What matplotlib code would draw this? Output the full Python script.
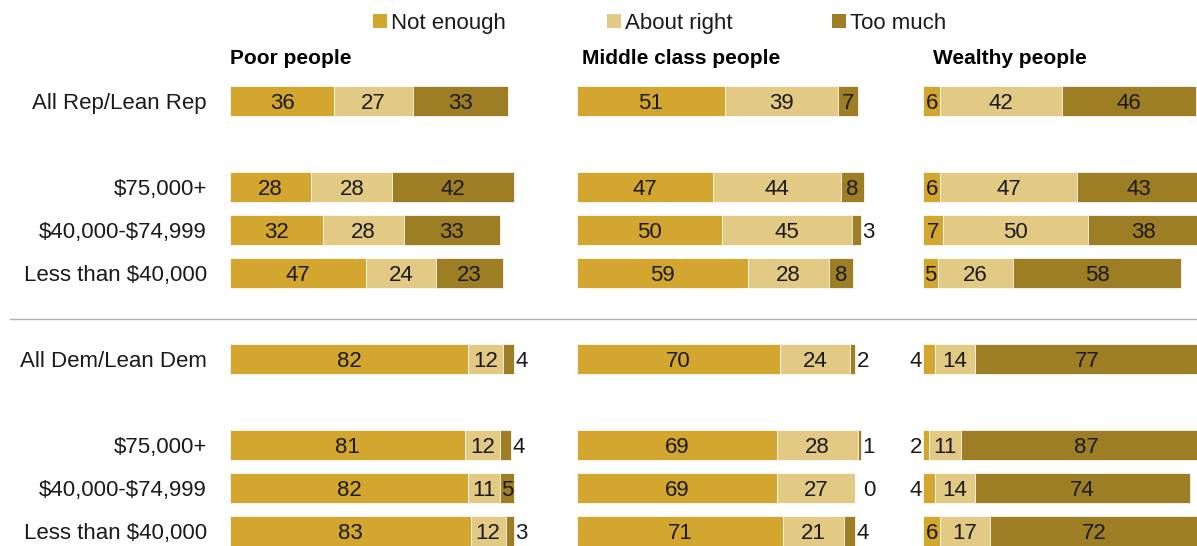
import matplotlib.pyplot as plt
from matplotlib.patches import Rectangle
from matplotlib.lines import Line2D

plt.rcParams['font.family'] = ['Liberation Sans', 'DejaVu Sans']

# data
groups = ['All Rep/Lean Rep', '$75,000+', '$40,000-$74,999', 'Less than $40,000',
          'All Dem/Lean Dem', '$75,000+', '$40,000-$74,999', 'Less than $40,000']
categories = ['Not enough', 'About right', 'Too much']
panel_titles = ['Poor people', 'Middle class people', 'Wealthy people']

poor_not_enough = [36, 28, 32, 47, 82, 81, 82, 83]
poor_about_right = [27, 28, 28, 24, 12, 12, 11, 12]
poor_too_much = [33, 42, 33, 23, 4, 4, 5, 3]

middle_not_enough = [51, 47, 50, 59, 70, 69, 69, 71]
middle_about_right = [39, 44, 45, 28, 24, 28, 27, 21]
middle_too_much = [7, 8, 3, 8, 2, 1, 0, 4]

wealthy_not_enough = [6, 6, 7, 5, 4, 2, 4, 6]
wealthy_about_right = [42, 47, 50, 26, 14, 11, 14, 17]
wealthy_too_much = [46, 43, 38, 58, 77, 87, 74, 72]

panels = [
    [poor_not_enough, poor_about_right, poor_too_much],
    [middle_not_enough, middle_about_right, middle_too_much],
    [wealthy_not_enough, wealthy_about_right, wealthy_too_much],
]

colors = ['#D3A62F', '#E2CA85', '#9E7E24']
text_color = '#1a1a1a'

W, H = 1197, 546
fig = plt.figure(figsize=(W / 100, H / 100), dpi=100)

# row slots (gaps after the "All" rows)
rows = [0, 2, 3, 4, 6, 8, 9, 10]
panel_left = [230, 577, 923]
title_left = [230, 582, 933]
px_per_unit = 2.9
row_px = 43

for p, series in enumerate(panels):
    ax = fig.add_axes([panel_left[p] / W, (H - 552.5) / H,
                       100 * px_per_unit / W, 11 * row_px / H])
    ax.set_xlim(0, 100)
    ax.set_ylim(10.5, -0.5)
    ax.axis('off')

    lefts = [0] * len(rows)
    for c, vals in enumerate(series):
        ax.barh(rows, vals, left=lefts, height=0.7, color=colors[c],
                edgecolor='white', linewidth=0.5)
        for y, l, v in zip(rows, lefts, vals):
            if v >= 5:
                ax.text(l + v / 2, y, str(v), ha='center', va='center_baseline',
                        fontsize=16, color=text_color)
            elif c == 0:
                ax.text(-0.3, y, str(v), ha='right', va='center_baseline',
                        fontsize=16, color=text_color)
            else:
                # small "too much" shares sit just past the bar end
                off = 2.5 if v == 0 else 0.4
                ax.text(l + v + off, y, str(v), ha='left', va='center_baseline',
                        fontsize=16, color=text_color)
        lefts = [l + v for l, v in zip(lefts, vals)]

    if p == 0:
        for y, g in zip(rows, groups):
            ax.text(-23 / px_per_unit, y, g, ha='right', va='center_baseline',
                    fontsize=16, color=text_color, parse_math=False)

    fig.text(title_left[p] / W, (H - 57) / H, panel_titles[p],
             fontsize=15, fontweight='bold', va='center_baseline', color='black')

# separator between Rep and Dem
fig.add_artist(Line2D([10 / W, 1], [(H - 319) / H] * 2, color='#b0b0b0', lw=1))

# legend
legend_x = [373, 607, 832]
for x, lab, col in zip(legend_x, categories, colors):
    fig.add_artist(Rectangle((x / W, (H - 28) / H), 14 / W, 14 / H,
                             facecolor=col, edgecolor='none'))
    fig.text((x + 18) / W, (H - 21) / H, lab, fontsize=16, va='center_baseline',
             color=text_color)

plt.savefig('out.png', dpi=100)
